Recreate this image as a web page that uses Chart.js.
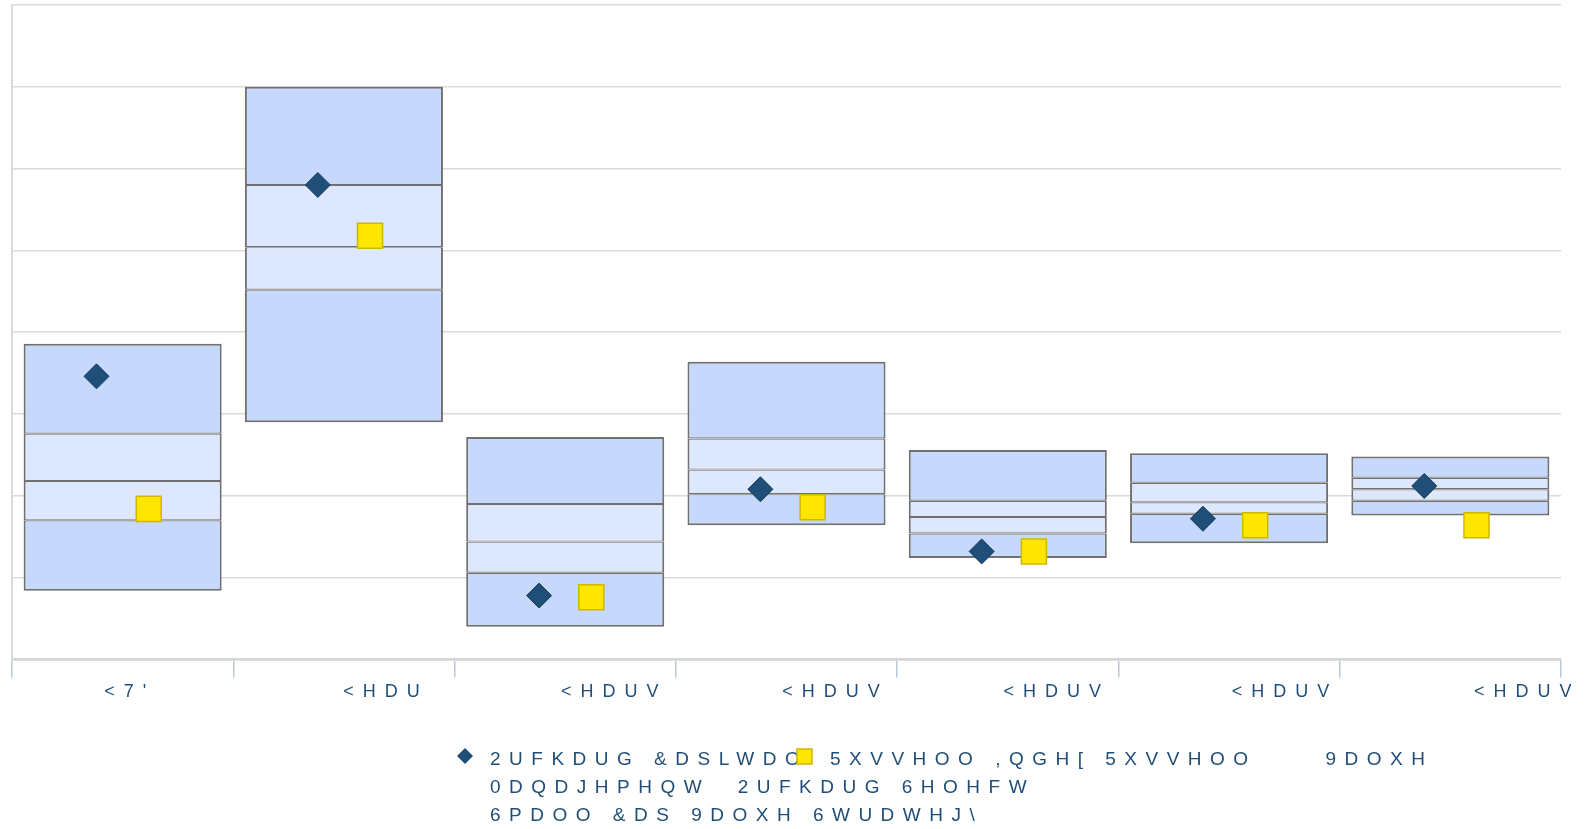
<!DOCTYPE html>
<html>
<head>
<meta charset="utf-8">
<script src="https://cdn.jsdelivr.net/npm/chart.js@4/dist/chart.umd.min.js"></script>
<style>
    body { margin: 0; background: #fff; }
    canvas { display: block; }
</style>
</head>
<body>
<canvas id="rangeChart" width="1596" height="829"></canvas>
<script>
// category labels (leading blanks stand in for the glyphs that did not render)
const periods = [" <7'", "      <HDU", "       <HDUV", "       <HDUV", "       <HDUV", "        <HDUV", "           <HDUV"];

// percentile bands of the peer group
const p95 = [9.3, 25.0, 3.6, 8.2, 2.8, 2.6, 2.4];
const p75 = [3.8, 19.0, -0.5, 3.5, -0.3, 0.8, 1.1];
const p50 = [0.9, 15.2, -2.8, 1.6, -1.3, -0.4, 0.4];
const p25 = [-1.5, 12.6, -4.7, 0.1, -2.3, -1.1, -0.3];
const p05 = [-5.8, 4.5, -8.0, -1.8, -3.8, -2.9, -1.2];

// strategy and index returns
const orchard = [7.3, 19.0, -6.1, 0.4, -3.4, -1.4, 0.6];
const russell = [-0.8, 15.9, -6.2, -0.7, -3.4, -1.8, -1.8];

const orchardLegend = ['2UFKDUG &DSLWDO', '0DQDJHPHQW  2UFKDUG 6HOHFW', '6PDOO &DS 9DOXH 6WUDWHJ\\'];
const russellLegend = ['5XVVHOO ,QGH[ 5XVVHOO     9DOXH'];

const outerBlue = '#C6D9FD';
const innerBlue = '#DDE7FE';
const boxLine = '#707070';
const textBlue = '#1F4E79';
const markerShift = 0.118;

function band(lo, hi) {
    return lo.map((v, i) => [v, hi[i]]);
}

function bandSet(lo, hi, color, top, bottom) {
    return {
        type: 'bar',
        data: band(lo, hi),
        backgroundColor: color,
        borderColor: boxLine,
        borderWidth: { top: top, bottom: bottom, left: 2, right: 2 },
        borderSkipped: false,
        grouped: false,
        barPercentage: 0.895,
        categoryPercentage: 1,
        order: 1
    };
}

function points(values, shift) {
    return values.map((v, i) => ({ x: i + shift, y: v }));
}

// letter spacing for the axis text, and the hand-laid legend underneath
const spacedText = {
    id: 'spacedText',
    beforeDraw(chart) {
        chart.ctx.letterSpacing = '9px';
    },
    afterDraw(chart) {
        const ctx = chart.ctx;
        ctx.save();
        ctx.letterSpacing = '8.5px';
        ctx.font = '19px "Liberation Sans", Arial, sans-serif';
        ctx.fillStyle = textBlue;
        ctx.textBaseline = 'middle';
        ctx.textAlign = 'left';
        orchardLegend.forEach((line, i) => ctx.fillText(line, 490, 760 + i * 28));
        russellLegend.forEach((line, i) => ctx.fillText(line, 830, 760 + i * 28));

        // diamond
        ctx.beginPath();
        ctx.moveTo(465, 748);
        ctx.lineTo(473, 756);
        ctx.lineTo(465, 764);
        ctx.lineTo(457, 756);
        ctx.closePath();
        ctx.fillStyle = '#1F4E79';
        ctx.fill();
        // square
        ctx.fillStyle = '#FFE600';
        ctx.strokeStyle = '#CDB800';
        ctx.lineWidth = 1.5;
        ctx.fillRect(797, 749, 15, 15);
        ctx.strokeRect(797, 749, 15, 15);
        ctx.restore();
        ctx.letterSpacing = '0px';
    }
};

const ctx = document.getElementById('rangeChart').getContext('2d');
new Chart(ctx, {
    type: 'bar',
    data: {
        labels: periods,
        datasets: [
            bandSet(p05, p25, outerBlue, 1.2, 2),
            bandSet(p25, p50, innerBlue, 1.2, 1.2),
            bandSet(p50, p75, innerBlue, 1.2, 1.2),
            bandSet(p75, p95, outerBlue, 2, 1.2),
            {
                type: 'scatter',
                label: orchardLegend.join(' '),
                data: points(orchard, -markerShift),
                xAxisID: 'xm',
                pointStyle: 'rectRot',
                pointRadius: 12.5,
                backgroundColor: '#1F4E79',
                borderColor: '#173A5C',
                borderWidth: 1,
                order: 0
            },
            {
                type: 'scatter',
                label: russellLegend.join(' '),
                data: points(russell, markerShift),
                xAxisID: 'xm',
                pointStyle: 'rect',
                pointRadius: 17.7,
                backgroundColor: '#FFE600',
                borderColor: '#CDB800',
                borderWidth: 1.5,
                order: 0
            }
        ]
    },
    options: {
        responsive: false,
        animation: false,
        layout: {
            autoPadding: false,
            padding: { left: 12, right: 35, top: 5, bottom: 122 }
        },
        plugins: {
            legend: { display: false },
            tooltip: { enabled: false }
        },
        scales: {
            x: {
                offset: true,
                grid: {
                    offset: true,
                    drawOnChartArea: false,
                    tickLength: 18,
                    color: '#B9C8DA',
                    lineWidth: 1.5
                },
                border: { color: '#D4D4D4', width: 2.5 },
                ticks: {
                    color: textBlue,
                    maxRotation: 0,
                    autoSkip: false,
                    padding: 4,
                    font: { size: 18, family: '"Liberation Sans", Arial, sans-serif' }
                }
            },
            xm: {
                type: 'linear',
                min: -0.5,
                max: 6.5,
                offset: false,
                display: false
            },
            y: {
                min: -10,
                max: 30,
                ticks: { stepSize: 5, display: false },
                grid: { color: '#D9D9D9', lineWidth: 1.5, drawTicks: false },
                border: { color: '#D9D9D9', width: 2 }
            }
        }
    },
    plugins: [spacedText]
});
</script>
</body>
</html>
